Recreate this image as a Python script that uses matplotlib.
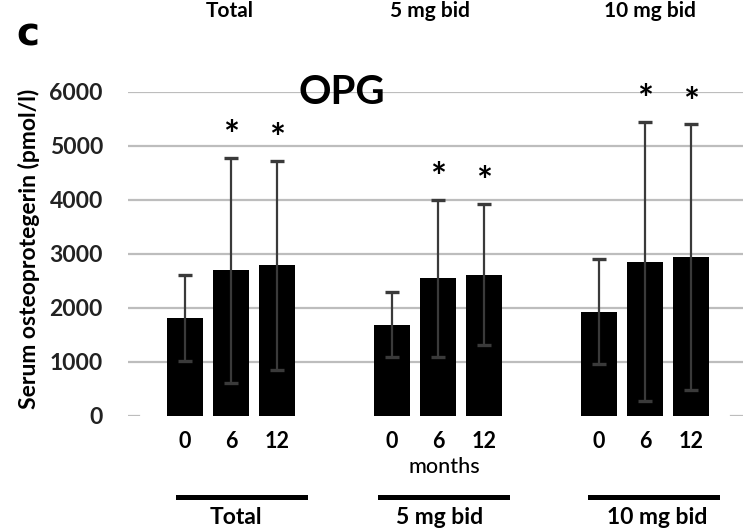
import matplotlib
matplotlib.use("Agg")
import matplotlib.pyplot as plt
from matplotlib.lines import Line2D

# data
groups = ["Total", "5 mg bid", "10 mg bid"]
months = ["0", "6", "12"]
means = [1810, 2700, 2790,
         1690, 2550, 2620,
         1930, 2860, 2940]
sds = [800, 2080, 1930,
       600, 1450, 1300,
       970, 2590, 2460]
signif = [False, True, True,
          False, True, True,
          False, True, True]

W, H = 743, 531
fig = plt.figure(figsize=(W / 100, H / 100), dpi=100)
FONT = "Lato"

def px(x, y):
    # figure pixel coords (from top-left) -> figure fraction
    return x / W, 1 - y / H

# axes: value 0 at y=416, 6000 at y=92, left gridline start x=128
ax = fig.add_axes([128 / W, (H - 416) / H, (W - 128) / W, (416 - 92) / H])

pos = []
for g in range(len(groups)):
    for m in range(len(months)):
        pos.append(g * 4.5 + m)

ax.bar(pos, means, width=0.8, color="black", zorder=3)
ax.errorbar(pos, means, yerr=sds, fmt="none", ecolor="#3a3a3a",
            elinewidth=1.6, capsize=5, capthick=2.4, zorder=4)

for p, m, s, sig in zip(pos, means, sds, signif):
    if sig:
        ax.annotate("*", (p, m + s), xytext=(0, 15), textcoords="offset points",
                    ha="center", va="center", fontsize=27, fontweight="bold",
                    family=FONT, annotation_clip=False)

ax.set_xlim(-1.24, 12.13)
ax.set_ylim(0, 6000)
ax.set_yticks(range(0, 6001, 1000))
ax.set_yticklabels([str(v) for v in range(0, 6001, 1000)],
                   fontsize=16.5, fontweight="bold", family=FONT, color="#222222")
ax.set_xticks(pos)
ax.set_xticklabels(months * len(groups), fontsize=15.5, fontweight="bold", family=FONT)
ax.tick_params(axis="y", length=0, pad=18)
ax.tick_params(axis="x", length=0, pad=11)
for sp in ax.spines.values():
    sp.set_visible(False)
for v in range(1000, 6001, 1000):
    ax.axhline(v, color="#bdbdbd", lw=1.6, zorder=1)
ax.axhline(0, xmax=0.018, color="#bdbdbd", lw=1.6, zorder=1)
ax.axhline(0, xmin=0.98, color="#bdbdbd", lw=1.6, zorder=1)

fig.text(*px(29, 249), "Serum osteoprotegerin (pmol/l)", rotation=90,
         ha="center", va="center", fontsize=16.5, fontweight="bold", family=FONT)
fig.text(*px(342, 92), "OPG", ha="center", va="center", fontsize=29,
         fontweight="bold", family=FONT)
fig.text(*px(28, 35), "c", ha="center", va="center", fontsize=28,
         fontweight="heavy", family="DejaVu Sans")
fig.text(*px(444, 467), "months", ha="center", va="center", fontsize=15.5,
         fontweight="medium", family=FONT)

# group bars and labels below, plus the labels from the panel above
line_x = [(178, 305), (380, 507), (590, 717)]
label_x = [236, 440, 657]
top_x = [230, 430, 650]
for g, (x0, x1), lx, tx in zip(groups, line_x, label_x, top_x):
    fig.add_artist(Line2D([px(x0, 0)[0], px(x1, 0)[0]], [px(0, 497)[1]] * 2,
                          color="black", lw=3.6))
    fig.text(*px(lx, 518), g, ha="center", va="center", fontsize=16.5,
             fontweight="bold", family=FONT)
    fig.text(*px(tx, 1), g, ha="center", va="top", fontsize=15,
             fontweight="bold", family=FONT)

fig.savefig("out.png", dpi=100)
